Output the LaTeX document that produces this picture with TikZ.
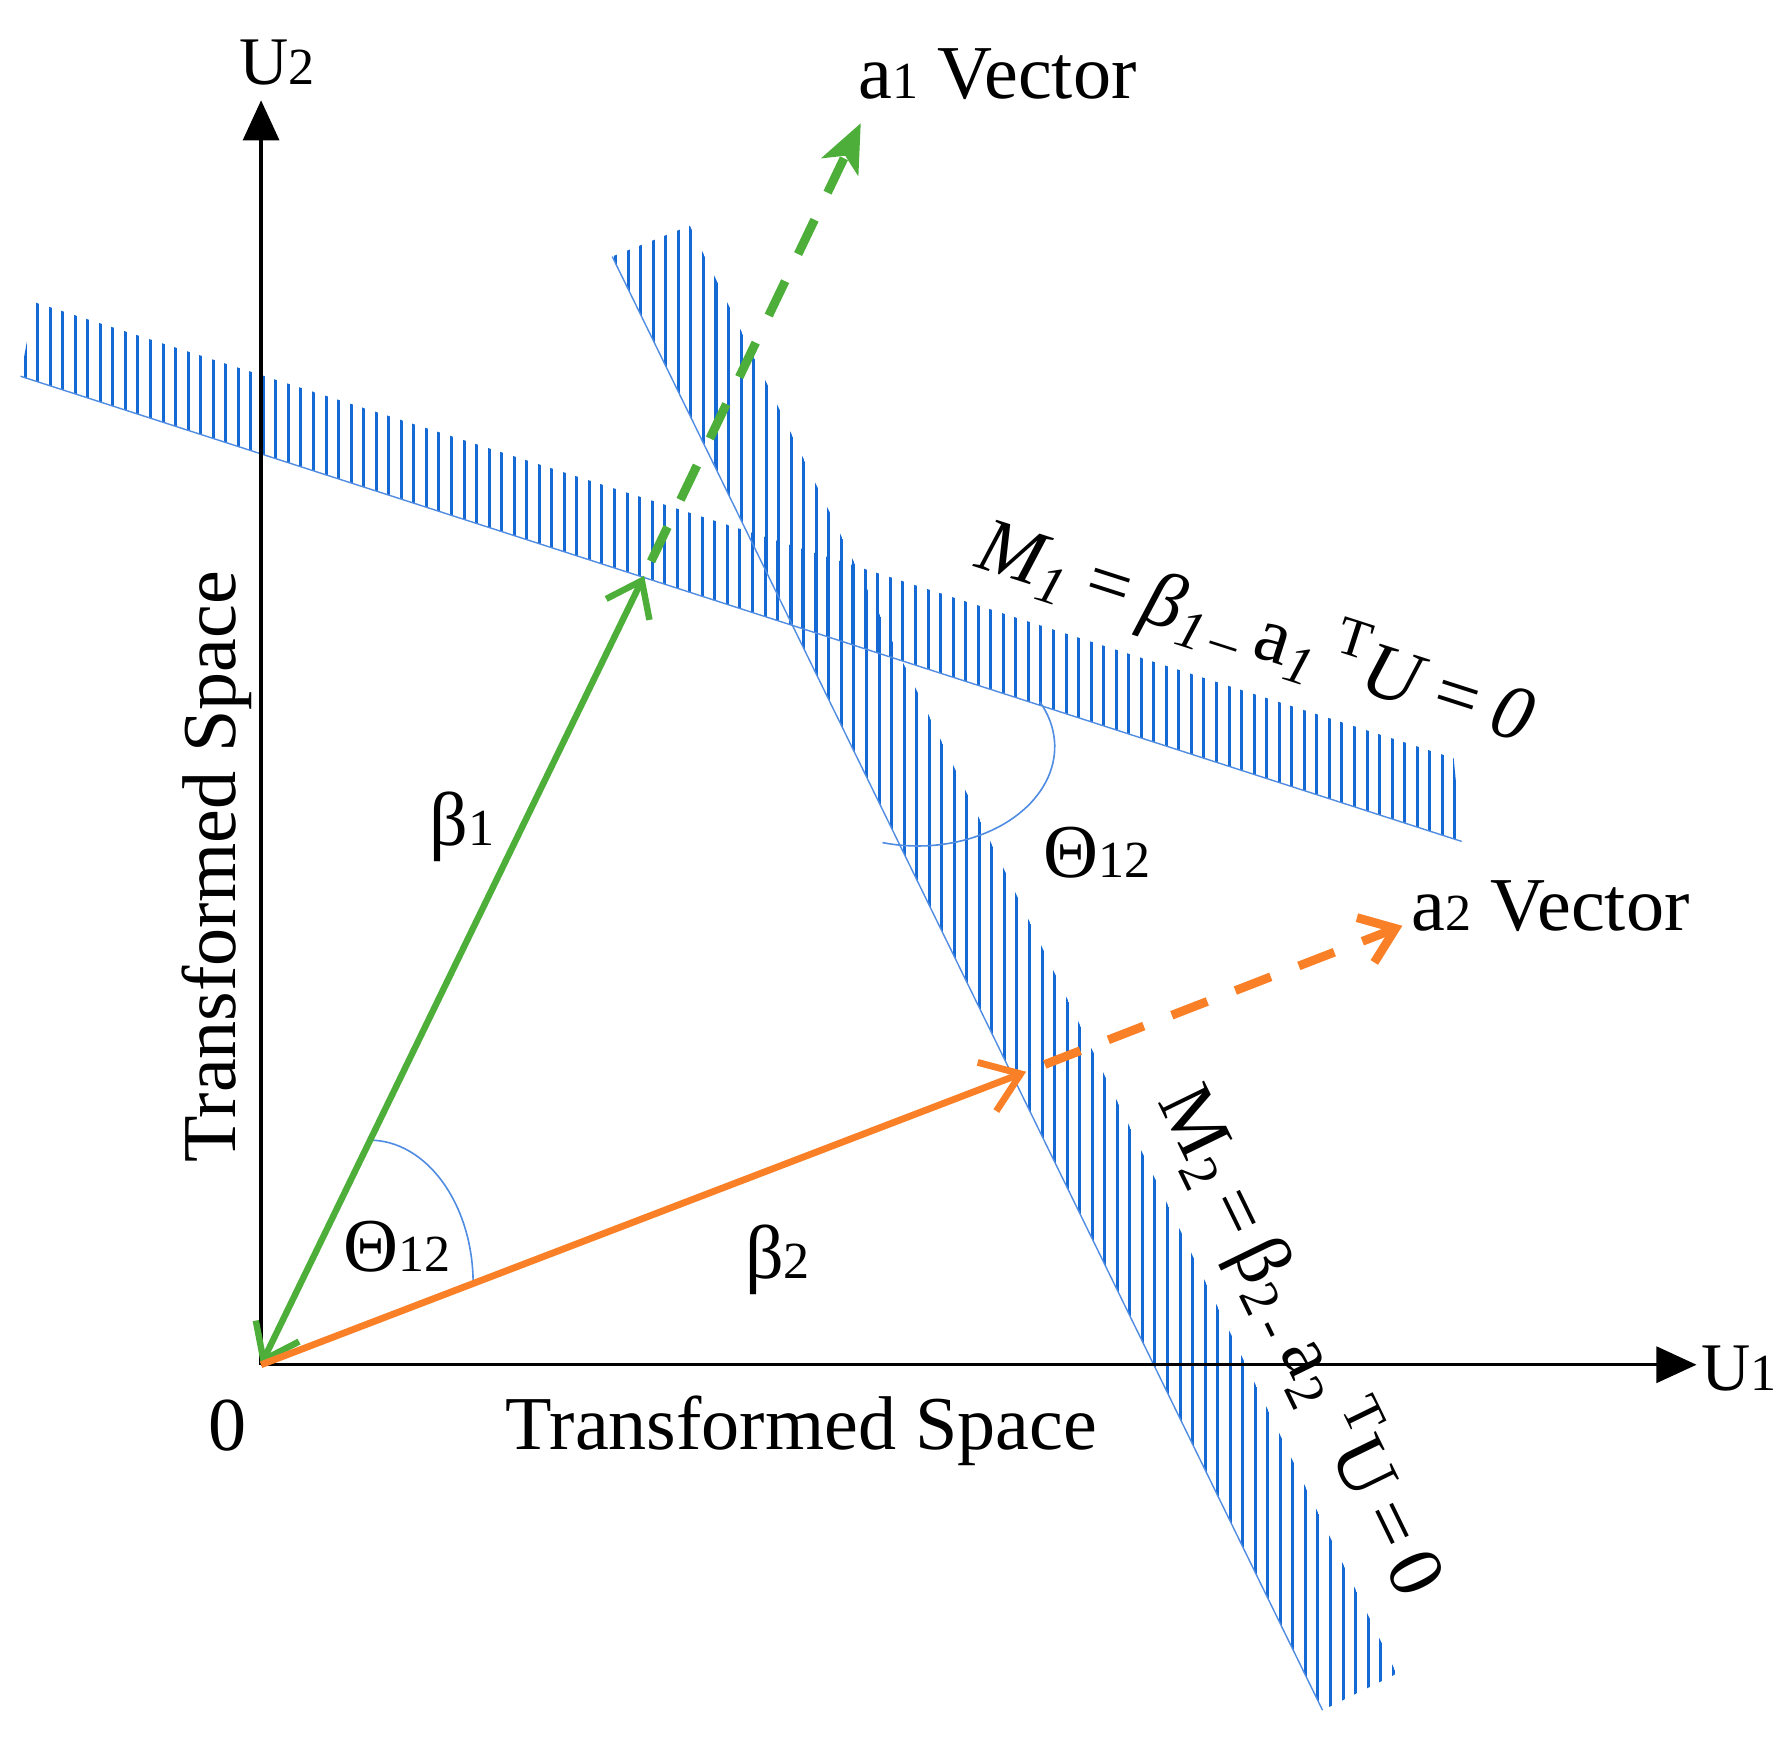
\documentclass[tikz,border=0pt]{standalone}
\usepackage{fontspec}
\setmainfont{Liberation Serif}
\usetikzlibrary{arrows.meta}
\definecolor{vgreen}{RGB}{77,175,58}
\definecolor{vorange}{RGB}{250,128,40}
\definecolor{hblue}{RGB}{20,105,212}
\definecolor{lblue}{RGB}{80,140,225}
\newcommand{\smd}[1]{{\fontsize{13}{13}\selectfont #1}}
\tikzstyle{axis} = [line width=0.8pt, -{Triangle[length=10pt,width=9pt]}]
\tikzstyle{hatch} = [line width=0.75pt, hblue]
\tikzstyle{border} = [line width=0.35pt, lblue]
\tikzstyle{anglearc} = [line width=0.4pt, lblue]
\tikzstyle{gvec} = [line width=1.6pt, vgreen]
\tikzstyle{ovec} = [line width=1.7pt, vorange]
\tikzstyle{dashvec} = [line width=2.2pt, dash pattern=on 9.5pt off 7.5pt]
\tikzstyle{lbl} = [inner sep=0pt, font=\fontsize{19}{22}\selectfont]
\tikzstyle{lblit} = [inner sep=0pt, font=\fontsize{19.5}{22}\selectfont\itshape]

\begin{document}
\begin{tikzpicture}[x=0.1mm, y=0.1mm]
	\useasboundingbox (0,0) rectangle (1563,-1525);
	\coordinate (O) at (229,-1197);
	\coordinate (U2end) at (229,-88);
	\coordinate (U1end) at (1488,-1197);
	\coordinate (b1) at (565,-505);
	\coordinate (a1) at (755,-108);
	\coordinate (b2) at (900,-940);
	\coordinate (a2) at (1230,-812);
	\coordinate (m1s) at (18,-330);
	\coordinate (m1e) at (1282,-738);
	\coordinate (m2s) at (537,-225);
	\coordinate (m2e) at (1160,-1500);
	\begin{scope}
		\clip (m1s) -- (30,-265) -- (1275,-665) -- (m1e) -- cycle;
		\foreach \x in {22,33,...,1280} \draw [hatch] (\x,-200) -- (\x,-800);
	\end{scope}
	\begin{scope}
		\clip (m2s) -- (605,-198) -- (1225,-1468) -- (m2e) -- cycle;
		\foreach \x in {540,551,...,1228} \draw [hatch] (\x,-150) -- (\x,-1550);
	\end{scope}
	\draw [border] (m1s) -- (m1e);
	\draw [border] (m2s) -- (m2e);
	\draw [anglearc] (324,-1000) arc [start angle=90, end angle=0, x radius=9.1mm, y radius=12.6mm];
	\draw [anglearc] (912,-615.5) arc [start angle=27, end angle=-105, x radius=12mm, y radius=8.7mm];
	\draw [axis] (O) -- (U2end);
	\draw [axis] (O) -- (U1end);
	\draw [gvec, {Straight Barb[length=8pt,width=12pt]}-{Straight Barb[length=8pt,width=12pt]}] (O) -- (b1);
	\draw [gvec, dashvec, shorten <=4pt, -{Stealth[length=12pt,width=10pt,inset=3pt]}] (b1) -- (a1);
	\draw [ovec, -{Straight Barb[length=9pt,width=13pt]}] (O) -- (b2);
	\draw [ovec, dashvec, shorten <=5pt, -{Straight Barb[length=8pt,width=12pt]}] (b2) -- (a2);
	\node (u2lbl) [lbl, font=\fontsize{17}{20}\selectfont] at (243,-55) {U\smd{2}};
	\node (u1lbl) [lbl, font=\fontsize{17}{20}\selectfont] at (1525,-1200) {U\smd{1}};
	\node (zero) [lbl] at (200,-1250) {0};
	\node (tsh) [lbl] at (703,-1255) {Transformed Space};
	\node (tsv) [lbl, rotate=90] at (190,-760) {Transformed Space};
	\node (a1lbl) [lbl] at (875,-65) {a\smd{1} Vector};
	\node (a2lbl) [lbl] at (1360,-795) {a\smd{2} Vector};
	\node (beta1) [lbl] at (405,-725) {β\smd{1}};
	\node (beta2) [lbl] at (682,-1105) {β\smd{2}};
	\node (theta0) [lbl] at (348,-1093) {Θ\smd{12}};
	\node (theta1) [lbl] at (962,-748) {Θ\smd{12}};
	\node (m1lbl) [lblit, rotate=-17.8] at (1102,-554) {M\textsubscript{1}\,=\,β\textsubscript{1\,–}\,{\upshape a}\textsubscript{1}\,\textsuperscript{\upshape T}U\,=\,0};
	\node (m2lbl) [lbl, font=\fontsize{19.5}{22}\selectfont, rotate=-64] at (1142,-1176) {M\textsubscript{2}\,=\,β\textsubscript{2\,-}\,a\textsubscript{2}\,\textsuperscript{T}U\,=\,0};
\end{tikzpicture}
\end{document}
